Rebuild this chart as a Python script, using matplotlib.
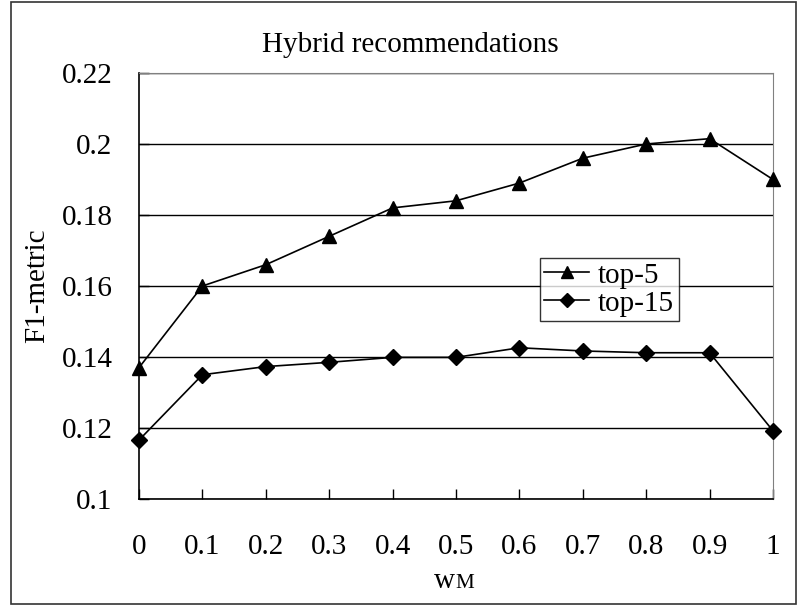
import matplotlib.pyplot as plt
from matplotlib.patches import Rectangle

plt.rcParams['font.family'] = ['Liberation Serif', 'DejaVu Serif']

w_m = [0, 0.1, 0.2, 0.3, 0.4, 0.5, 0.6, 0.7, 0.8, 0.9, 1]
x_labels = ['0', '0.1', '0.2', '0.3', '0.4', '0.5', '0.6', '0.7', '0.8', '0.9', '1']
top5 = [0.137, 0.160, 0.166, 0.174, 0.182, 0.184, 0.189, 0.196, 0.200, 0.2015, 0.190]
top15 = [0.1166, 0.135, 0.1373, 0.1385, 0.1399, 0.1399, 0.1426, 0.1417, 0.1412, 0.1412, 0.1192]
y_ticks = [0.1, 0.12, 0.14, 0.16, 0.18, 0.2, 0.22]
y_labels = ['0.1', '0.12', '0.14', '0.16', '0.18', '0.2', '0.22']

fs = 21

fig = plt.figure(figsize=(7.98, 6.05), dpi=100)
ax = fig.add_axes([139 / 798, 1 - 499 / 605, 634 / 798, 426 / 605])

# outer chart border
fig.patches.append(Rectangle((11 / 798, 1 / 605), 785 / 798, 602 / 605,
                             transform=fig.transFigure, fill=False,
                             edgecolor='#333333', linewidth=1.2))

ax.plot(w_m, top5, '-^', color='black', lw=1.2, markersize=10, label='top-5', clip_on=False, zorder=3)
ax.plot(w_m, top15, '-D', color='black', lw=1.2, markersize=8.5, label='top-15', clip_on=False, zorder=3)

ax.set_xlim(0, 1)
ax.set_ylim(0.1, 0.22)
ax.set_xticks(w_m)
ax.set_xticklabels(x_labels)
ax.set_yticks(y_ticks)
ax.set_yticklabels(y_labels)
ax.tick_params(axis='x', direction='in', length=7, width=1, labelsize=fs, pad=25)
ax.tick_params(axis='y', direction='in', length=7, width=1, labelsize=fs, pad=19)
ax.grid(axis='y', color='black', lw=1)
ax.set_axisbelow(True)

for s in ['top', 'right']:
    ax.spines[s].set_color('#808080')
for s in ['left', 'bottom']:
    ax.spines[s].set_color('black')
    ax.spines[s].set_linewidth(1.2)

ax.set_ylabel('F1-metric', fontsize=fs, labelpad=8)

# x label "wM" with smaller M
fig.text(455 / 798, 1 - 588 / 605, 'w', fontsize=fs, ha='right', va='baseline')
fig.text(455 / 798, 1 - 588 / 605, 'M', fontsize=fs * 0.72, ha='left', va='baseline')

fig.text(410 / 798, 1 - 45 / 605, 'Hybrid recommendations', fontsize=fs, ha='center', va='center')

leg = ax.legend(loc='upper left', bbox_to_anchor=(0.632, 0.566), borderaxespad=0,
                fontsize=fs, frameon=True, fancybox=False, handlelength=1.55,
                labelspacing=0.05, borderpad=0.15, handletextpad=0.3, markerscale=0.8)
leg.get_frame().set_edgecolor('black')
leg.get_frame().set_linewidth(1)

fig.savefig('out.png', dpi=100)
